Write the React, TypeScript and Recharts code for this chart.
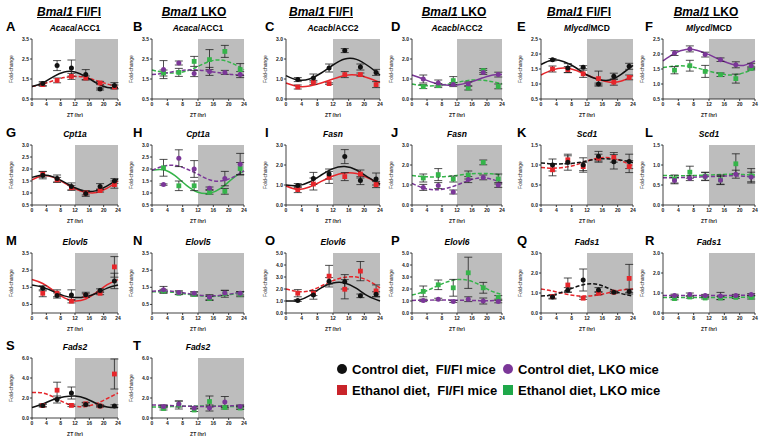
import React from 'react';
import { ComposedChart, Line, Scatter, XAxis, YAxis, ReferenceArea, ErrorBar } from 'recharts';

const FONT = "'Liberation Sans', Arial, sans-serif";

// sampling times
const ZT = [3, 7, 11, 15, 19, 23];
const FIT_ZT = [0, 3, 6, 9, 12, 15, 18, 21, 24];
const X_TICKS = [0, 4, 8, 12, 16, 20, 24];

// y tick sets
const T_05_35 = [0.5, 1, 1.5, 2, 2.5, 3, 3.5];
const T_0_3 = [0, 0.5, 1, 1.5, 2, 2.5, 3];
const T_05_25 = [0.5, 1, 1.5, 2, 2.5];
const T_05_3 = [0.5, 1, 1.5, 2, 2.5, 3];
const T_0_15 = [0, 0.5, 1, 1.5];
const T_0_35 = [0, 0.5, 1, 1.5, 2, 2.5, 3, 3.5];
const T_0_5 = [0, 1, 2, 3, 4, 5];
const T_0_3i = [0, 1, 2, 3];
const T_0_6 = [0, 2, 4, 6];

// A  Acaca/ACC1, Fl/Fl
const A_ctrl = [1.27, 2.17, 2.05, 1.72, 1.0, 1.17];
const A_ctrlSem = [0.1, 0.25, 0.4, 0.25, 0.05, 0.15];
const A_ctrlFit = [1.12, 1.3, 1.62, 1.85, 1.85, 1.62, 1.3, 1.08, 1.08];
const A_eth = [1.22, 1.43, 1.63, 1.55, 1.3, 1.1];
const A_ethSem = [0.08, 0.12, 0.15, 0.1, 0.08, 0.1];
const A_ethFit = [1.12, 1.25, 1.42, 1.57, 1.63, 1.58, 1.42, 1.25, 1.12];

// B  Acaca/ACC1, LKO
const B_ctrl = [1.97, 2.3, 1.77, 1.88, 1.83, 1.72];
const B_ctrlSem = [0.45, 0.1, 0.15, 0.2, 0.1, 0.15];
const B_ctrlFit = [1.72, 1.78, 1.88, 1.95, 1.95, 1.88, 1.8, 1.72, 1.7];
const B_eth = [1.8, 1.83, 2.38, 2.47, 2.88, 1.97];
const B_ethSem = [0.15, 0.2, 0.25, 0.5, 0.3, 0.3];
const B_ethFit = [1.95, 1.83, 1.8, 1.9, 2.13, 2.38, 2.45, 2.28, 1.97];

// C  Acacb/ACC2, Fl/Fl
const C_ctrl = [0.97, 1.05, 1.55, 2.42, 1.6, 1.33];
const C_ctrlSem = [0.1, 0.2, 0.2, 0.1, 0.15, 0.15];
const C_ctrlFit = [1.17, 0.95, 1.0, 1.3, 1.7, 2.0, 1.98, 1.65, 1.2];
const C_eth = [0.6, 0.83, 0.77, 1.22, 1.22, 0.72];
const C_ethSem = [0.1, 0.1, 0.04, 0.15, 0.08, 0.15];
const C_ethFit = [0.8, 0.63, 0.65, 0.8, 1.0, 1.18, 1.2, 1.05, 0.82];

// D  Acacb/ACC2, LKO
const D_ctrl = [1.0, 0.8, 0.72, 0.75, 1.33, 1.22];
const D_ctrlSem = [0.2, 0.15, 0.1, 0.1, 0.1, 0.12];
const D_ctrlFit = [1.2, 1.0, 0.8, 0.7, 0.7, 0.82, 1.0, 1.18, 1.22];
const D_eth = [0.62, 0.67, 0.92, 0.55, 1.42, 0.63];
const D_ethSem = [0.1, 0.1, 0.2, 0.1, 0.1, 0.12];
const D_ethFit = [0.75, 0.67, 0.66, 0.72, 0.83, 0.93, 0.95, 0.88, 0.76];

// E  Mlycd/MCD, Fl/Fl
const E_ctrl = [1.81, 1.53, 1.56, 1.0, 1.26, 1.59];
const E_ctrlSem = [0.04, 0.15, 0.05, 0.03, 0.1, 0.1];
const E_ctrlFit = [1.65, 1.8, 1.74, 1.55, 1.3, 1.15, 1.13, 1.33, 1.62];
const E_eth = [1.5, 1.48, 1.34, 1.18, 1.06, 1.22];
const E_ethSem = [0.1, 0.1, 0.12, 0.25, 0.1, 0.08];
const E_ethFit = [1.3, 1.47, 1.53, 1.46, 1.3, 1.15, 1.06, 1.1, 1.28];

// F  Mlycd/MCD, LKO
const F_ctrl = [2.03, 2.17, 1.98, 1.81, 1.64, 1.61];
const F_ctrlSem = [0.08, 0.1, 0.08, 0.06, 0.1, 0.08];
const F_ctrlFit = [1.77, 2.02, 2.15, 2.12, 1.98, 1.8, 1.66, 1.62, 1.77];
const F_eth = [1.46, 1.61, 1.42, 1.31, 1.18, 1.52];
const F_ethSem = [0.12, 0.18, 0.2, 0.06, 0.15, 0.05];
const F_ethFit = [1.55, 1.6, 1.6, 1.53, 1.43, 1.34, 1.3, 1.37, 1.52];

// G  Cpt1a, Fl/Fl
const G_ctrl = [1.74, 1.6, 1.27, 0.98, 1.27, 1.5];
const G_ctrlSem = [0.15, 0.15, 0.15, 0.12, 0.12, 0.1];
const G_ctrlFit = [1.65, 1.75, 1.67, 1.45, 1.22, 1.07, 1.1, 1.3, 1.58];
const G_eth = [1.78, 1.55, 1.22, 1.0, 1.1, 1.35];
const G_ethSem = [0.12, 0.1, 0.1, 0.08, 0.06, 0.15];
const G_ethFit = [1.55, 1.72, 1.65, 1.42, 1.17, 1.03, 1.02, 1.2, 1.5];

// H  Cpt1a, LKO
const H_ctrl = [1.35, 2.45, 2.0, 1.2, 1.6, 2.2];
const H_ctrlSem = [0.03, 0.35, 0.35, 0.05, 0.3, 0.45];
const H_ctrlFit = [1.95, 2.12, 2.15, 2.0, 1.78, 1.55, 1.5, 1.65, 1.92];
const H_eth = [2.05, 1.3, 1.3, 1.03, 1.07, 2.02];
const H_ethSem = [0.35, 0.2, 0.2, 0.08, 0.12, 0.25];
const H_ethFit = [1.95, 1.97, 1.72, 1.32, 1.03, 0.99, 1.2, 1.6, 1.92];

// I  Fasn, Fl/Fl
const I_ctrl = [0.97, 1.33, 1.55, 2.42, 1.22, 1.3];
const I_ctrlSem = [0.1, 0.3, 0.25, 0.35, 0.2, 0.3];
const I_ctrlFit = [1.0, 0.97, 1.15, 1.5, 1.82, 1.92, 1.75, 1.38, 1.05];
const I_eth = [0.77, 1.05, 1.38, 1.42, 1.55, 1.02];
const I_ethSem = [0.15, 0.3, 0.3, 0.2, 0.2, 0.15];
const I_ethFit = [0.95, 0.78, 0.9, 1.18, 1.45, 1.6, 1.57, 1.35, 1.03];

// J  Fasn, LKO
const J_ctrl = [0.88, 0.97, 0.65, 1.27, 1.38, 1.0];
const J_ctrlSem = [0.15, 0.15, 0.1, 0.15, 0.12, 0.12];
const J_ctrlFit = [1.08, 0.85, 0.76, 0.82, 1.0, 1.22, 1.35, 1.3, 1.1];
const J_eth = [1.35, 1.52, 1.3, 1.5, 2.13, 1.3];
const J_ethSem = [0.2, 0.3, 0.15, 0.2, 0.12, 0.25];
const J_ethFit = [1.47, 1.42, 1.4, 1.42, 1.48, 1.55, 1.58, 1.56, 1.5];

// K  Scd1, Fl/Fl
const K_ctrl = [1.0, 1.07, 1.0, 1.22, 1.08, 1.09];
const K_ctrlSem = [0.15, 0.2, 0.18, 0.12, 0.18, 0.18];
const K_ctrlFit = [1.05, 1.03, 1.03, 1.05, 1.1, 1.15, 1.15, 1.12, 1.06];
const K_eth = [0.88, 1.13, 0.96, 1.17, 1.19, 0.96];
const K_ethSem = [0.15, 0.1, 0.1, 0.1, 0.12, 0.15];
const K_ethFit = [0.94, 0.92, 0.94, 1.0, 1.1, 1.17, 1.18, 1.1, 0.98];

// L  Scd1, LKO
const L_ctrl = [0.61, 0.67, 0.71, 0.62, 0.77, 0.7];
const L_ctrlSem = [0.08, 0.06, 0.1, 0.1, 0.1, 0.12];
const L_ctrlFit = [0.68, 0.68, 0.69, 0.7, 0.71, 0.72, 0.73, 0.72, 0.7];
const L_eth = [0.65, 0.82, 0.72, 0.63, 1.03, 0.73];
const L_ethSem = [0.1, 0.15, 0.1, 0.12, 0.25, 0.18];
const L_ethFit = [0.74, 0.73, 0.73, 0.74, 0.75, 0.76, 0.77, 0.76, 0.75];

// M  Elovl5, Fl/Fl
const M_ctrl = [1.44, 1.02, 1.05, 1.06, 1.31, 1.87];
const M_ctrlSem = [0.15, 0.15, 0.3, 0.15, 0.1, 0.45];
const M_ctrlFit = [1.63, 1.5, 1.25, 1.0, 0.9, 0.95, 1.15, 1.45, 1.63];
const M_eth = [1.15, 1.15, 0.69, 1.02, 1.15, 2.69];
const M_ethSem = [0.2, 0.2, 0.1, 0.1, 0.08, 0.6];
const M_ethFit = [1.95, 1.72, 1.3, 0.88, 0.7, 0.82, 1.2, 1.65, 1.95];

// N  Elovl5, LKO
const N_ctrl = [1.35, 1.2, 1.15, 0.92, 1.17, 1.15];
const N_ctrlSem = [0.2, 0.1, 0.1, 0.15, 0.15, 0.1];
const N_ctrlFit = [1.27, 1.3, 1.25, 1.15, 1.05, 1.0, 1.03, 1.13, 1.25];
const N_eth = [1.28, 1.15, 1.08, 0.85, 1.12, 1.1];
const N_ethSem = [0.1, 0.08, 0.1, 0.12, 0.2, 0.15];
const N_ethFit = [1.23, 1.25, 1.2, 1.1, 1.02, 0.97, 1.0, 1.1, 1.22];

// O  Elovl6, Fl/Fl
const O_ctrl = [1.04, 1.5, 2.65, 2.6, 1.43, 1.57];
const O_ctrlSem = [0.08, 0.35, 0.3, 0.6, 0.15, 0.2];
const O_ctrlFit = [1.0, 1.05, 1.45, 2.1, 2.5, 2.5, 2.05, 1.4, 1.0];
const O_eth = [1.65, 1.65, 3.07, 1.98, 3.49, 1.84];
const O_ethSem = [0.3, 0.2, 0.9, 0.8, 0.8, 0.5];
const O_ethFit = [2.0, 1.8, 1.85, 2.25, 2.7, 2.98, 3.0, 2.7, 2.1];

// P  Elovl6, LKO
const P_ctrl = [1.05, 1.15, 0.95, 1.15, 1.0, 0.95];
const P_ctrlSem = [0.1, 0.08, 0.08, 0.2, 0.25, 0.1];
const P_ctrlFit = [1.05, 1.06, 1.08, 1.08, 1.07, 1.05, 1.03, 1.03, 1.05];
const P_eth = [1.8, 2.35, 2.1, 3.35, 2.1, 1.3];
const P_ethSem = [0.45, 0.4, 0.7, 1.3, 0.45, 0.15];
const P_ethFit = [1.5, 1.75, 2.15, 2.55, 2.78, 2.72, 2.35, 1.85, 1.55];

// Q  Fads1, Fl/Fl
const Q_ctrl = [0.8, 1.15, 1.65, 1.15, 1.04, 1.07];
const Q_ctrlSem = [0.1, 0.12, 0.55, 0.12, 0.05, 0.12];
const Q_ctrlFit = [0.85, 0.9, 1.08, 1.3, 1.45, 1.42, 1.2, 0.97, 0.85];
const Q_eth = [0.82, 1.4, 0.74, 0.99, 1.04, 1.73];
const Q_ethSem = [0.08, 0.35, 0.06, 0.08, 0.05, 0.7];
const Q_ethFit = [1.2, 1.1, 0.97, 0.87, 0.85, 0.9, 1.03, 1.15, 1.2];

// R  Fads1, LKO
const R_ctrl = [0.88, 0.92, 0.87, 0.85, 0.88, 0.92];
const R_ctrlSem = [0.06, 0.08, 0.06, 0.18, 0.05, 0.05];
const R_ctrlFit = [0.87, 0.87, 0.87, 0.87, 0.87, 0.88, 0.88, 0.89, 0.9];
const R_eth = [0.72, 0.8, 0.75, 0.75, 0.78, 0.78];
const R_ethSem = [0.06, 0.06, 0.05, 0.08, 0.05, 0.08];
const R_ethFit = [0.77, 0.77, 0.77, 0.77, 0.77, 0.78, 0.78, 0.79, 0.8];

// S  Fads2, Fl/Fl
const S_ctrl = [1.26, 1.85, 2.5, 1.36, 1.2, 1.2];
const S_ctrlSem = [0.12, 0.35, 0.6, 0.15, 0.1, 0.12];
const S_ctrlFit = [1.05, 1.4, 1.85, 2.12, 2.2, 1.95, 1.45, 1.1, 1.05];
const S_eth = [1.25, 2.78, 1.26, 1.42, 1.2, 4.4];
const S_ethSem = [0.15, 0.8, 0.12, 0.15, 0.08, 1.5];
const S_ethFit = [2.55, 2.5, 2.1, 1.55, 1.2, 1.15, 1.45, 1.95, 2.5];

// T  Fads2, LKO
const T_ctrl = [1.15, 1.4, 1.0, 1.0, 1.6, 1.15];
const T_ctrlSem = [0.15, 0.3, 0.1, 0.3, 0.55, 0.15];
const T_ctrlFit = [1.3, 1.27, 1.22, 1.18, 1.15, 1.15, 1.18, 1.22, 1.27];
const T_eth = [0.95, 1.3, 0.8, 1.65, 1.05, 1.0];
const T_ethSem = [0.15, 0.4, 0.15, 0.55, 0.15, 0.15];
const T_ethFit = [1.1, 1.12, 1.15, 1.18, 1.2, 1.2, 1.18, 1.15, 1.1];

const COLORS = {
  fl: { ctrl: '#111111', eth: '#e6262b' },
  lko: { ctrl: '#7b3798', eth: '#35b44a' },
};

// layout of the plot boxes
const COL_LEFT = [32, 152, 286, 412, 541, 663];
const COL_W = [86, 92, 94, 90, 92, 92];
const ROW_TOP = [39, 145, 253, 358];
const PLOT_H = 60;
const HEADER_X = [69, 194, 321, 454, 579, 706];
const LETTER_X = [6, 133, 265, 391, 517, 645];

const panels = [
  { id: 'A', gene: 'Acaca', suffix: '/ACC1', g: 'fl', ticks: T_05_35, ctrl: A_ctrl, ctrlSem: A_ctrlSem, ctrlFit: A_ctrlFit, ctrlDash: false, eth: A_eth, ethSem: A_ethSem, ethFit: A_ethFit, ethDash: true },
  { id: 'B', gene: 'Acaca', suffix: '/ACC1', g: 'lko', ticks: T_05_35, ctrl: B_ctrl, ctrlSem: B_ctrlSem, ctrlFit: B_ctrlFit, ctrlDash: true, eth: B_eth, ethSem: B_ethSem, ethFit: B_ethFit, ethDash: true },
  { id: 'C', gene: 'Acacb', suffix: '/ACC2', g: 'fl', ticks: T_0_3, ctrl: C_ctrl, ctrlSem: C_ctrlSem, ctrlFit: C_ctrlFit, ctrlDash: false, eth: C_eth, ethSem: C_ethSem, ethFit: C_ethFit, ethDash: false },
  { id: 'D', gene: 'Acacb', suffix: '/ACC2', g: 'lko', ticks: T_0_3, ctrl: D_ctrl, ctrlSem: D_ctrlSem, ctrlFit: D_ctrlFit, ctrlDash: false, eth: D_eth, ethSem: D_ethSem, ethFit: D_ethFit, ethDash: true },
  { id: 'E', gene: 'Mlycd', suffix: '/MCD', g: 'fl', ticks: T_05_25, ctrl: E_ctrl, ctrlSem: E_ctrlSem, ctrlFit: E_ctrlFit, ctrlDash: false, eth: E_eth, ethSem: E_ethSem, ethFit: E_ethFit, ethDash: false },
  { id: 'F', gene: 'Mlycd', suffix: '/MCD', g: 'lko', ticks: T_05_25, ctrl: F_ctrl, ctrlSem: F_ctrlSem, ctrlFit: F_ctrlFit, ctrlDash: false, eth: F_eth, ethSem: F_ethSem, ethFit: F_ethFit, ethDash: true },
  { id: 'G', gene: 'Cpt1a', suffix: '', g: 'fl', ticks: T_05_3, ctrl: G_ctrl, ctrlSem: G_ctrlSem, ctrlFit: G_ctrlFit, ctrlDash: false, eth: G_eth, ethSem: G_ethSem, ethFit: G_ethFit, ethDash: false },
  { id: 'H', gene: 'Cpt1a', suffix: '', g: 'lko', ticks: T_05_3, ctrl: H_ctrl, ctrlSem: H_ctrlSem, ctrlFit: H_ctrlFit, ctrlDash: true, eth: H_eth, ethSem: H_ethSem, ethFit: H_ethFit, ethDash: false },
  { id: 'I', gene: 'Fasn', suffix: '', g: 'fl', ticks: T_0_3, ctrl: I_ctrl, ctrlSem: I_ctrlSem, ctrlFit: I_ctrlFit, ctrlDash: false, eth: I_eth, ethSem: I_ethSem, ethFit: I_ethFit, ethDash: false },
  { id: 'J', gene: 'Fasn', suffix: '', g: 'lko', ticks: T_0_3, ctrl: J_ctrl, ctrlSem: J_ctrlSem, ctrlFit: J_ctrlFit, ctrlDash: true, eth: J_eth, ethSem: J_ethSem, ethFit: J_ethFit, ethDash: true },
  { id: 'K', gene: 'Scd1', suffix: '', g: 'fl', ticks: T_0_15, ctrl: K_ctrl, ctrlSem: K_ctrlSem, ctrlFit: K_ctrlFit, ctrlDash: true, eth: K_eth, ethSem: K_ethSem, ethFit: K_ethFit, ethDash: true },
  { id: 'L', gene: 'Scd1', suffix: '', g: 'lko', ticks: T_0_15, ctrl: L_ctrl, ctrlSem: L_ctrlSem, ctrlFit: L_ctrlFit, ctrlDash: true, eth: L_eth, ethSem: L_ethSem, ethFit: L_ethFit, ethDash: true },
  { id: 'M', gene: 'Elovl5', suffix: '', g: 'fl', ticks: T_0_35, ctrl: M_ctrl, ctrlSem: M_ctrlSem, ctrlFit: M_ctrlFit, ctrlDash: false, eth: M_eth, ethSem: M_ethSem, ethFit: M_ethFit, ethDash: false },
  { id: 'N', gene: 'Elovl5', suffix: '', g: 'lko', ticks: T_0_35, ctrl: N_ctrl, ctrlSem: N_ctrlSem, ctrlFit: N_ctrlFit, ctrlDash: true, eth: N_eth, ethSem: N_ethSem, ethFit: N_ethFit, ethDash: true },
  { id: 'O', gene: 'Elovl6', suffix: '', g: 'fl', ticks: T_0_5, ctrl: O_ctrl, ctrlSem: O_ctrlSem, ctrlFit: O_ctrlFit, ctrlDash: false, eth: O_eth, ethSem: O_ethSem, ethFit: O_ethFit, ethDash: true },
  { id: 'P', gene: 'Elovl6', suffix: '', g: 'lko', ticks: T_0_5, ctrl: P_ctrl, ctrlSem: P_ctrlSem, ctrlFit: P_ctrlFit, ctrlDash: true, eth: P_eth, ethSem: P_ethSem, ethFit: P_ethFit, ethDash: true },
  { id: 'Q', gene: 'Fads1', suffix: '', g: 'fl', ticks: T_0_3i, ctrl: Q_ctrl, ctrlSem: Q_ctrlSem, ctrlFit: Q_ctrlFit, ctrlDash: true, eth: Q_eth, ethSem: Q_ethSem, ethFit: Q_ethFit, ethDash: true },
  { id: 'R', gene: 'Fads1', suffix: '', g: 'lko', ticks: T_0_3i, ctrl: R_ctrl, ctrlSem: R_ctrlSem, ctrlFit: R_ctrlFit, ctrlDash: true, eth: R_eth, ethSem: R_ethSem, ethFit: R_ethFit, ethDash: true },
  { id: 'S', gene: 'Fads2', suffix: '', g: 'fl', ticks: T_0_6, ctrl: S_ctrl, ctrlSem: S_ctrlSem, ctrlFit: S_ctrlFit, ctrlDash: false, eth: S_eth, ethSem: S_ethSem, ethFit: S_ethFit, ethDash: true },
  { id: 'T', gene: 'Fads2', suffix: '', g: 'lko', ticks: T_0_6, ctrl: T_ctrl, ctrlSem: T_ctrlSem, ctrlFit: T_ctrlFit, ctrlDash: true, eth: T_eth, ethSem: T_ethSem, ethFit: T_ethFit, ethDash: true },
];

const tickStyle = { fontSize: 5, fill: '#222', fontWeight: 700, fontFamily: FONT };

const dot = (color: string) => (props: any) => (
  <circle cx={props.cx} cy={props.cy} r={2.5} fill={color} />
);
const square = (color: string) => (props: any) => (
  <rect x={props.cx - 2.4} y={props.cy - 2.4} width={4.8} height={4.8} fill={color} />
);

function Panel({ p, index }: { p: any; index: number }) {
  const col = index % 6;
  const row = Math.floor(index / 6);
  const left = COL_LEFT[col];
  const w = COL_W[col];
  const top = ROW_TOP[row];
  const c = COLORS[p.g as 'fl' | 'lko'];
  const lo = p.ticks[0];
  const hi = p.ticks[p.ticks.length - 1];

  const ctrlPts = ZT.map((x, i) => ({ x, y: p.ctrl[i], e: p.ctrlSem[i] }));
  const ethPts = ZT.map((x, i) => ({ x, y: p.eth[i], e: p.ethSem[i] }));
  const ctrlFit = FIT_ZT.map((x, i) => ({ x, y: p.ctrlFit[i] }));
  const ethFit = FIT_ZT.map((x, i) => ({ x, y: p.ethFit[i] }));

  return (
    <>
      <div style={{ position: 'absolute', left: LETTER_X[col], top: top - 19, fontSize: 13, fontWeight: 700, fontFamily: FONT, lineHeight: '14px' }}>
        {p.id}
      </div>
      <div style={{ position: 'absolute', left: left + w / 2 - 50, width: 100, top: top - 16, textAlign: 'center', fontSize: 8.5, fontWeight: 700, fontFamily: FONT, lineHeight: '10px' }}>
        <i>{p.gene}</i>{p.suffix}
      </div>
      <div style={{ position: 'absolute', left: left - 30, top: top - 4 }}>
        <ComposedChart width={w + 34} height={PLOT_H + 22} margin={{ top: 4, right: 4, bottom: 0, left: 0 }}>
          <XAxis
            type="number"
            dataKey="x"
            domain={[0, 24]}
            ticks={X_TICKS}
            height={18}
            tick={tickStyle}
            tickSize={2}
            tickMargin={1}
            stroke="#111"
            strokeWidth={0.8}
            label={{ value: 'ZT (hr)', position: 'insideBottom', offset: 0, style: { fontSize: 5, fontWeight: 700, fill: '#222', fontFamily: FONT } }}
          />
          <YAxis
            type="number"
            dataKey="y"
            domain={[lo, hi]}
            ticks={p.ticks}
            allowDataOverflow
            width={30}
            tick={tickStyle}
            tickSize={2}
            tickMargin={1}
            tickFormatter={(v: number) => v.toFixed(1)}
            stroke="#111"
            strokeWidth={0.8}
            label={{ value: 'Fold-change', angle: -90, position: 'insideLeft', offset: 9, style: { fontSize: 5, fill: '#222', fontFamily: FONT, textAnchor: 'middle' } }}
          />
          <ReferenceArea x1={12} x2={24} fill="#bdbdbd" fillOpacity={1} stroke="none" />
          <Line data={ethFit} dataKey="y" type="natural" dot={false} stroke={c.eth} strokeWidth={1.5} strokeDasharray={p.ethDash ? '4 2' : undefined} isAnimationActive={false} />
          <Line data={ctrlFit} dataKey="y" type="natural" dot={false} stroke={c.ctrl} strokeWidth={1.5} strokeDasharray={p.ctrlDash ? '4 2' : undefined} isAnimationActive={false} />
          <Scatter data={ethPts} shape={square(c.eth)} isAnimationActive={false}>
            <ErrorBar dataKey="e" direction="y" width={4} stroke="#222" strokeWidth={0.8} />
          </Scatter>
          <Scatter data={ctrlPts} shape={dot(c.ctrl)} isAnimationActive={false}>
            <ErrorBar dataKey="e" direction="y" width={4} stroke="#222" strokeWidth={0.8} />
          </Scatter>
        </ComposedChart>
      </div>
    </>
  );
}

const legendItems = [
  { label: 'Control diet,  Fl/Fl mice', color: '#111111', shape: 'circle', x: 337, y: 369 },
  { label: 'Control diet, LKO mice', color: '#7b3798', shape: 'circle', x: 503, y: 369 },
  { label: 'Ethanol diet,  Fl/Fl mice', color: '#c9242b', shape: 'square', x: 337, y: 390 },
  { label: 'Ethanol diet, LKO mice', color: '#1fa84a', shape: 'square', x: 503, y: 390 },
];

export default function App() {
  return (
    <div style={{ position: 'absolute', left: 0, top: 0, width: 767, height: 440, background: '#fff', fontFamily: FONT, overflow: 'hidden' }}>
      {HEADER_X.map((cx, i) => (
        <div
          key={i}
          style={{ position: 'absolute', left: cx - 60, width: 120, top: 5, textAlign: 'center', fontSize: 12, fontWeight: 700, lineHeight: '14px', textDecoration: 'underline' }}
        >
          <i>Bmal1</i> {i % 2 === 0 ? 'Fl/Fl' : 'LKO'}
        </div>
      ))}
      {panels.map((p, i) => (
        <Panel key={p.id} p={p} index={i} />
      ))}
      {legendItems.map((it) => (
        <div key={it.label} style={{ position: 'absolute', left: it.x, top: it.y - 8, height: 16, display: 'flex', alignItems: 'center', fontSize: 13, fontWeight: 700, whiteSpace: 'pre' }}>
          <span style={{ display: 'inline-block', width: 10, height: 10, borderRadius: it.shape === 'circle' ? 5 : 0, background: it.color, marginRight: 5 }} />
          {it.label}
        </div>
      ))}
    </div>
  );
}
